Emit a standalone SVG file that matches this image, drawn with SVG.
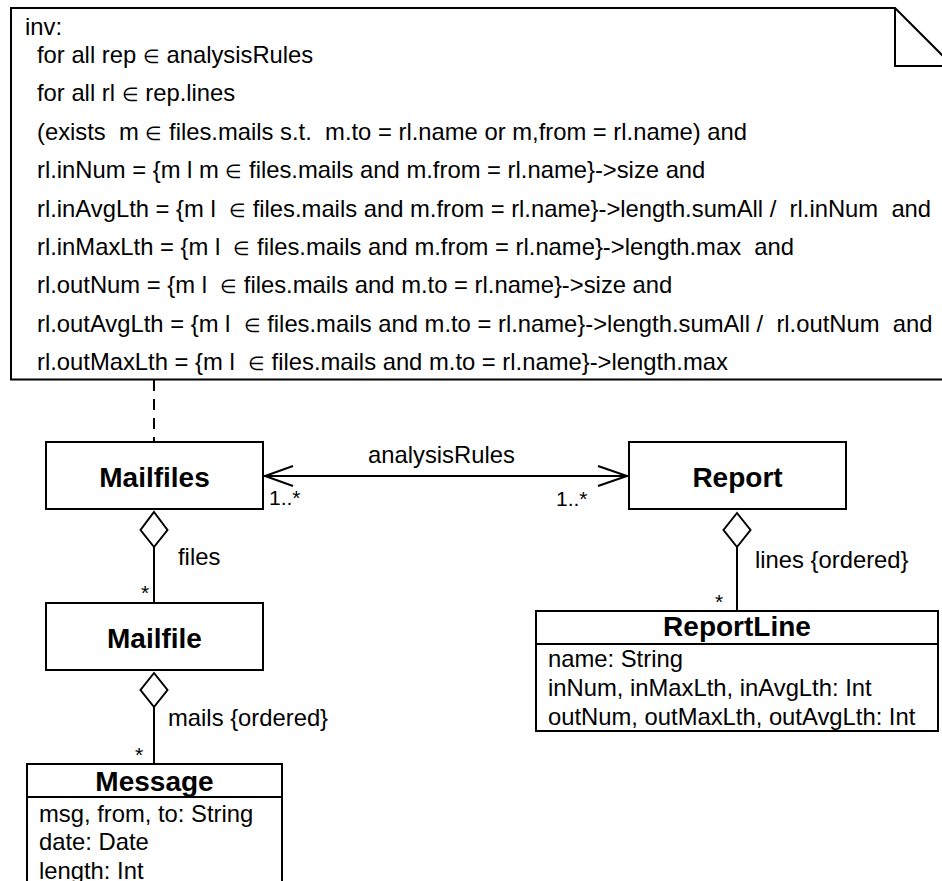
<svg xmlns="http://www.w3.org/2000/svg" width="942" height="881" viewBox="0 0 942 881">
  <style>
    text { font-family: "Liberation Sans", Arial, Helvetica, sans-serif; fill: #000; white-space: pre; }
    .t { font-size: 23.8px; }
    .e { font-size: 19px; }
    .m { font-size: 21px; }
    .b { font-size: 28px; font-weight: bold; text-anchor: middle; }
    .box { fill: #fff; stroke: #000; stroke-width: 2; }
    .ln { fill: none; stroke: #000; stroke-width: 2; }
  </style>
  <rect width="942" height="881" fill="#fff"/>

  <!-- constraint note -->
  <g id="note">
    <path class="box" d="M11,8 H895 L960,73 V379.5 H11 Z"/>
    <path class="ln" d="M895,8 V66 H960"/>
    <text class="t" x="25" y="35">inv:</text>
    <text class="t" x="37" y="63">for all rep <tspan class="e">∈</tspan> analysisRules</text>
    <text class="t" x="37" y="101.4">for all rl <tspan class="e">∈</tspan> rep.lines</text>
    <text class="t" x="37" y="139.8">(exists  m <tspan class="e">∈</tspan> files.mails s.t.  m.to = rl.name or m,from = rl.name) and</text>
    <text class="t" x="37" y="178.2">rl.inNum = {m l m <tspan class="e">∈</tspan> files.mails and m.from = rl.name}-&gt;size and</text>
    <text class="t" x="37" y="216.6">rl.inAvgLth = {m l  <tspan class="e">∈</tspan> files.mails and m.from = rl.name}-&gt;length.sumAll /  rl.inNum  and</text>
    <text class="t" x="37" y="255">rl.inMaxLth = {m l  <tspan class="e">∈</tspan> files.mails and m.from = rl.name}-&gt;length.max  and</text>
    <text class="t" x="37" y="293.4">rl.outNum = {m l  <tspan class="e">∈</tspan> files.mails and m.to = rl.name}-&gt;size and</text>
    <text class="t" x="37" y="331.8">rl.outAvgLth = {m l  <tspan class="e">∈</tspan> files.mails and m.to = rl.name}-&gt;length.sumAll /  rl.outNum  and</text>
    <text class="t" x="37" y="370.2">rl.outMaxLth = {m l  <tspan class="e">∈</tspan> files.mails and m.to = rl.name}-&gt;length.max</text>
  </g>

  <!-- connectors -->
  <g id="connectors">
    <line class="ln" x1="154" y1="380" x2="154" y2="442" stroke-dasharray="11 8"/>

    <line class="ln" x1="264" y1="476" x2="627" y2="476"/>
    <polyline class="ln" points="293,466 265,476 293,486"/>
    <polyline class="ln" points="598,466 627,476 598,486"/>
    <text class="t" x="368" y="463.3">analysisRules</text>
    <text class="m" x="269" y="505">1..*</text>
    <text class="m" x="556" y="506">1..*</text>

    <line class="ln" x1="154" y1="547" x2="154" y2="603"/>
    <polygon class="box" points="154,512 167.5,530 154,547 140.5,530"/>
    <text class="t" x="178" y="565">files</text>
    <text class="m" x="145" y="600" text-anchor="middle">*</text>

    <line class="ln" x1="154" y1="707" x2="154" y2="764"/>
    <polygon class="box" points="154,673 167.5,690 154,707 140.5,690"/>
    <text class="t" x="168" y="726">mails {ordered}</text>
    <text class="m" x="139" y="762" text-anchor="middle">*</text>

    <line class="ln" x1="737" y1="547" x2="737" y2="611"/>
    <polygon class="box" points="737,513 750.5,530 737,547 723.5,530"/>
    <text class="t" x="755" y="568">lines {ordered}</text>
    <text class="m" x="719" y="609" text-anchor="middle">*</text>
  </g>

  <g id="Mailfiles">
    <rect class="box" x="46" y="442" width="217" height="67"/>
    <text class="b" x="154.5" y="486.5">Mailfiles</text>
  </g>

  <g id="Report">
    <rect class="box" x="629" y="442" width="217" height="67"/>
    <text class="b" x="737.5" y="486.5">Report</text>
  </g>

  <g id="Mailfile">
    <rect class="box" x="46" y="603" width="217" height="67"/>
    <text class="b" x="154.5" y="648">Mailfile</text>
  </g>

  <g id="ReportLine">
    <rect class="box" x="536" y="611" width="402" height="120"/>
    <line class="ln" x1="536" y1="644" x2="938" y2="644"/>
    <text class="b" x="737" y="636">ReportLine</text>
    <text class="t" x="548" y="666.5">name: String</text>
    <text class="t" x="548" y="696">inNum, inMaxLth, inAvgLth: Int</text>
    <text class="t" x="548" y="725">outNum, outMaxLth, outAvgLth: Int</text>
  </g>

  <g id="Message">
    <rect class="box" x="27" y="764" width="255" height="160"/>
    <line class="ln" x1="27" y1="797" x2="282" y2="797"/>
    <text class="b" x="154.5" y="790.5">Message</text>
    <text class="t" x="39" y="821.5">msg, from, to: String</text>
    <text class="t" x="39" y="850">date: Date</text>
    <text class="t" x="39" y="878.5">length: Int</text>
  </g>
</svg>
